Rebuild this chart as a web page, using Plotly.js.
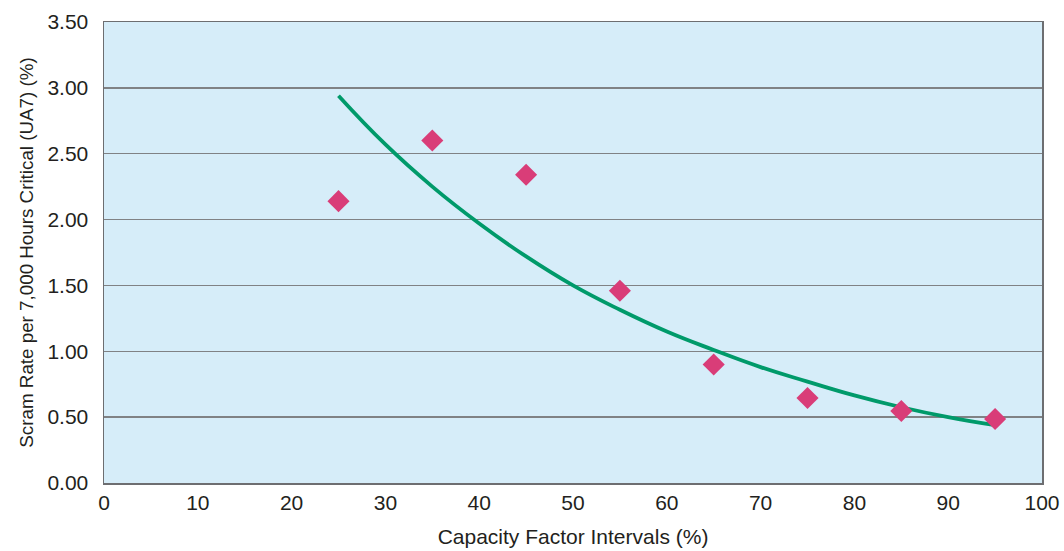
<!DOCTYPE html>
<html>
<head>
<meta charset="utf-8">
<script src="https://cdn.plot.ly/plotly-3.0.1.min.js"></script>
<style>html,body{margin:0;padding:0;background:#fff;}#chart{width:1064px;height:551px;}</style>
</head>
<body>
<div id="chart"></div>
<script>
// Scatter data (capacity factor interval midpoints, scram rate)
const capacityFactor = [25, 35, 45, 55, 65, 75, 85, 95];
const scramRate = [2.14, 2.60, 2.34, 1.46, 0.90, 0.645, 0.547, 0.486];

// Trend line points
const trendX = [25, 30, 35, 40, 45, 50, 55, 60, 65, 70, 75, 80, 85, 90, 95];
const trendY = [2.94, 2.57, 2.25, 1.97, 1.72, 1.50, 1.315, 1.15, 1.01, 0.88, 0.77, 0.665, 0.575, 0.50, 0.44];

const xTicks = [0, 10, 20, 30, 40, 50, 60, 70, 80, 90, 100];
const yTicks = [0, 0.5, 1.0, 1.5, 2.0, 2.5, 3.0, 3.5];
const yTickText = ['0.00', '0.50', '1.00', '1.50', '2.00', '2.50', '3.00', '3.50'];

const traces = [
  {
    x: trendX, y: trendY, type: 'scatter', mode: 'lines',
    line: {color: '#009a6a', width: 3.8, shape: 'spline', smoothing: 1.3},
    hoverinfo: 'skip', showlegend: false
  },
  {
    x: capacityFactor, y: scramRate, type: 'scatter', mode: 'markers',
    marker: {symbol: 'diamond', size: 17, color: '#d93d78', line: {width: 0}},
    showlegend: false
  }
];

const font = {family: 'Liberation Sans, Arial, sans-serif', color: '#231f20'};

const layout = {
  width: 1064, height: 551,
  margin: {l: 104, r: 22, t: 22, b: 68},
  paper_bgcolor: '#ffffff',
  plot_bgcolor: '#d6edf9',
  font: font,
  xaxis: {
    range: [0, 100], tickvals: xTicks, ticktext: xTicks.map(String),
    showgrid: false, zeroline: false,
    showline: true, mirror: true, linecolor: '#6d6e71', linewidth: 1.5,
    ticks: '', ticklabelstandoff: 0,
    tickfont: {size: 21, family: font.family, color: '#231f20'},
    title: {text: 'Capacity Factor Intervals (%)', font: {size: 21, family: font.family, color: '#231f20'}, standoff: 16}
  },
  yaxis: {
    range: [0, 3.5], tickvals: yTicks, ticktext: yTickText,
    showgrid: true, gridcolor: '#808285', gridwidth: 1.5, zeroline: false,
    showline: true, mirror: true, linecolor: '#6d6e71', linewidth: 1.5,
    ticks: '', ticklabelstandoff: 10,
    tickfont: {size: 21, family: font.family, color: '#231f20'},
    title: {text: 'Scram Rate per 7,000 Hours Critical (UA7) (%)', font: {size: 18.8, family: font.family, color: '#231f20'}, standoff: 9}
  }
};

Plotly.newPlot('chart', traces, layout, {displayModeBar: false, staticPlot: true});
</script>
</body>
</html>
